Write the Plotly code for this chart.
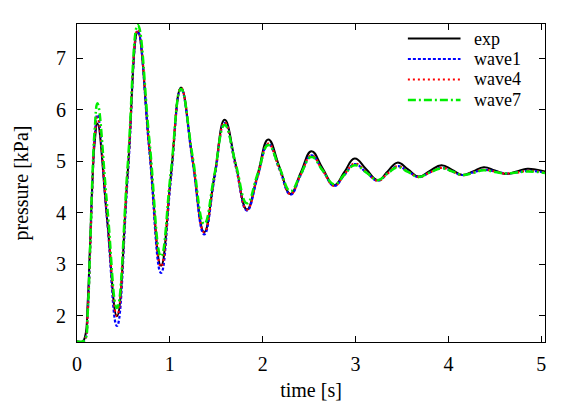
import plotly.graph_objects as go

series_names = ["exp", "wave1", "wave4", "wave7"]

time_s = [0.00, 0.06, 0.09, 0.115, 0.14, 0.165, 0.19,
          0.22, 0.325, 0.43, 0.545, 0.655, 0.78, 0.905, 1.01, 1.12, 1.245,
          1.37, 1.48, 1.59, 1.71, 1.83, 1.945, 2.06, 2.18, 2.30, 2.41,
          2.525, 2.645, 2.77, 2.88, 2.99, 3.115, 3.24, 3.345, 3.45, 3.565,
          3.68, 3.80, 3.925, 4.04, 4.15, 4.265, 4.38, 4.50, 4.62, 4.735,
          4.85, 4.95, 5.04]

exp = [1.50, 1.50, 1.62, 2.25, 3.35, 4.55, 5.35,
       5.73, 3.86, 1.99, 4.75, 7.50, 5.24, 2.97, 4.70, 6.43, 5.03,
       3.62, 4.71, 5.80, 4.93, 4.06, 4.74, 5.42, 4.89, 4.36, 4.78,
       5.19, 4.86, 4.53, 4.79, 5.05, 4.84, 4.63, 4.80, 4.97, 4.84,
       4.70, 4.81, 4.92, 4.83, 4.73, 4.80, 4.88, 4.82, 4.75, 4.80,
       4.85, 4.83, 4.80]

wave1 = [1.50, 1.50, 1.56, 2.05, 3.20, 4.50, 5.45,
         5.90, 3.85, 1.80, 4.66, 7.52, 5.18, 2.83, 4.62, 6.40, 4.99,
         3.58, 4.66, 5.74, 4.89, 4.04, 4.69, 5.33, 4.84, 4.35, 4.73,
         5.11, 4.82, 4.52, 4.73, 4.94, 4.78, 4.62, 4.76, 4.90, 4.80,
         4.69, 4.78, 4.87, 4.80, 4.73, 4.78, 4.83, 4.80, 4.76, 4.78,
         4.81, 4.80, 4.78]

wave4 = [1.50, 1.50, 1.56, 2.05, 3.20, 4.50, 5.45,
         5.85, 3.92, 2.00, 4.77, 7.55, 5.25, 2.95, 4.69, 6.42, 5.02,
         3.62, 4.69, 5.75, 4.90, 4.06, 4.70, 5.34, 4.85, 4.36, 4.74,
         5.11, 4.82, 4.52, 4.74, 4.95, 4.79, 4.62, 4.76, 4.90, 4.80,
         4.69, 4.78, 4.87, 4.80, 4.73, 4.78, 4.83, 4.80, 4.76, 4.78,
         4.81, 4.80, 4.78]

wave7 = [1.50, 1.50, 1.55, 2.05, 3.25, 4.65, 5.60,
         6.12, 4.13, 2.15, 4.90, 7.64, 5.40, 3.15, 4.78, 6.40, 5.09,
         3.78, 4.74, 5.70, 4.94, 4.18, 4.75, 5.31, 4.87, 4.42, 4.75,
         5.08, 4.82, 4.55, 4.74, 4.92, 4.78, 4.63, 4.76, 4.88, 4.79,
         4.69, 4.78, 4.86, 4.80, 4.73, 4.77, 4.82, 4.79, 4.76, 4.78,
         4.80, 4.79, 4.77]

x_ticks = [0, 1, 2, 3, 4, 5]
y_ticks = [2, 3, 4, 5, 6, 7]

series_values = [exp, wave1, wave4, wave7]
colors = ["#000000", "#0000ff", "#ff0000", "#00ee00"]
dashes = ["solid", "3px,2px", "2px,3px", "8px,3px,2px,3px"]
widths = [2, 2.2, 2.2, 2.5]

FONT = "Liberation Serif, Times New Roman, serif"
FS = 20
LEG_FS = 18

fig = go.Figure()
for name, vals, c, d, w in zip(series_names, series_values, colors, dashes, widths):
    fig.add_trace(go.Scatter(
        x=time_s, y=vals, mode="lines", name=name, showlegend=False,
        line=dict(color=c, dash=d, width=w, shape="spline", smoothing=1.3),
    ))

# legend drawn in paper coordinates (line sample + label)
leg_rows = [0.9544, 0.8899, 0.8255, 0.761]
for name, c, d, w, yr in zip(series_names, colors, dashes, widths, leg_rows):
    fig.add_shape(type="line", xref="paper", yref="paper",
                  x0=0.707, x1=0.8195, y0=yr, y1=yr,
                  line=dict(color=c, dash=d, width=w))
    fig.add_annotation(xref="paper", yref="paper", x=0.843, y=yr,
                       xanchor="left", yanchor="middle", showarrow=False,
                       text=name, font=dict(family=FONT, size=LEG_FS, color="black"))

fig.update_layout(
    width=581, height=407,
    margin=dict(l=66, r=44, t=16, b=73),
    paper_bgcolor="white", plot_bgcolor="white",
    font=dict(family=FONT, size=FS, color="black"),
    showlegend=False,
)
fig.update_xaxes(
    range=[0, 5.04], tickvals=x_ticks,
    ticks="inside", ticklen=6, tickcolor="black",
    showline=True, linecolor="black", linewidth=1, mirror="ticks",
    showgrid=False, zeroline=False, ticklabelstandoff=4,
    title=dict(text="time [s]", standoff=8, font=dict(family=FONT, size=FS)),
)
fig.update_yaxes(
    range=[1.49, 7.66], tickvals=y_ticks,
    ticks="inside", ticklen=6, tickcolor="black",
    showline=True, linecolor="black", linewidth=1, mirror="ticks",
    showgrid=False, zeroline=False, ticklabelstandoff=6,
    title=dict(text="pressure [kPa]", standoff=22, font=dict(family=FONT, size=FS)),
)

fig.write_html("out.html")
